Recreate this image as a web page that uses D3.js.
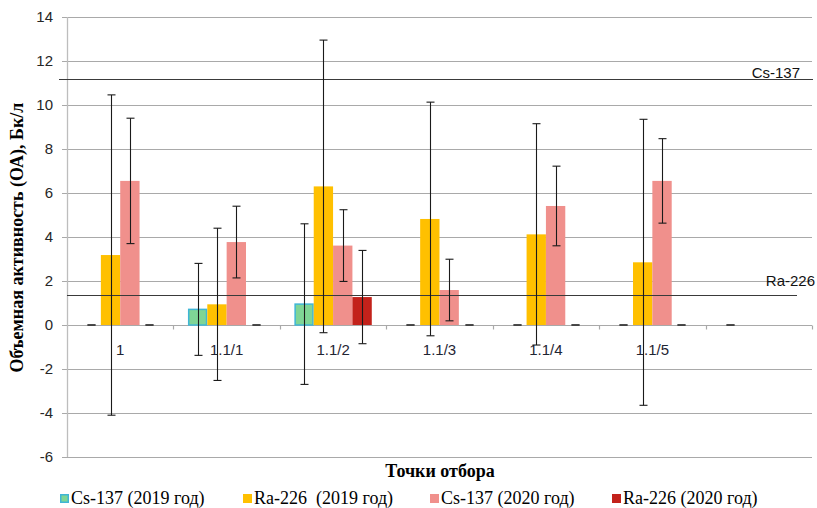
<!DOCTYPE html>
<html>
<head>
<meta charset="utf-8">
<script src="https://cdn.jsdelivr.net/npm/d3@7"></script>
<style>
  html, body { margin: 0; padding: 0; background: #fff; }
  svg { display: block; }
</style>
</head>
<body>
<svg id="chart" width="817" height="508"></svg>
<script>
// Sampling points (the last slot is an unlabeled spare point)
const categories = ["1", "1.1/1", "1.1/2", "1.1/3", "1.1/4", "1.1/5", ""];

// Volumetric activity, Bq/l, with measurement uncertainty (±)
const cs137_2019 = [0, 0.71, 0.95, 0, 0, 0, 0];
const cs137_2019Err = [0, 2.09, 3.65, 0, 0, 0, 0];
const ra226_2019 = [3.18, 0.94, 6.30, 4.82, 4.12, 2.85, null];
const ra226_2019Err = [7.28, 3.46, 6.65, 5.31, 5.03, 6.50, null];
const cs137_2020 = [6.55, 3.77, 3.61, 1.59, 5.41, 6.55, null];
const cs137_2020Err = [2.85, 1.63, 1.63, 1.40, 1.81, 1.92, null];
const ra226_2020 = [0, 0, 1.27, 0, 0, 0, null];
const ra226_2020Err = [0, 0, 2.12, 0, 0, 0, null];

// Reference levels
const limitNames = ["Cs-137", "Ra-226"];
const limitValues = [11.2, 1.35];

// Axis ticks
const yTicks = [-6, -4, -2, 0, 2, 4, 6, 8, 10, 12, 14];

const seriesNames = ["Cs-137 (2019 год)", "Ra-226  (2019 год)", "Cs-137 (2020 год)", "Ra-226 (2020 год)"];
const seriesValues = [cs137_2019, ra226_2019, cs137_2020, ra226_2020];
const seriesErrors = [cs137_2019Err, ra226_2019Err, cs137_2020Err, ra226_2020Err];
const seriesFill = ["#7fd595", "#ffc000", "#f0908c", "#c3221b"];
const seriesStroke = ["#3fb6d6", "#ffc000", "#f0908c", "#c3221b"];

const svg = d3.select("#chart");
const plot = { left: 67, right: 812, top: 17, bottom: 457 };

const x0 = d3.scaleBand().domain(d3.range(categories.length))
  .range([plot.left, plot.right]).paddingInner(0).paddingOuter(0);
const x1 = d3.scaleBand().domain(d3.range(seriesNames.length))
  .range([0, x0.bandwidth()]).paddingInner(0).paddingOuter(0.75);
const y = d3.scaleLinear().domain([-6, 14]).range([plot.bottom, plot.top]);

// Horizontal gridlines with short ticks left of the axis
const grid = svg.append("g");
grid.selectAll("line").data(yTicks).join("line")
  .attr("x1", plot.left - 5).attr("x2", plot.right)
  .attr("y1", d => Math.round(y(d)) + 0.5).attr("y2", d => Math.round(y(d)) + 0.5)
  .attr("stroke", "#a9a9a9").attr("stroke-width", 1.2);

// Vertical axis line
svg.append("line")
  .attr("x1", plot.left + 0.5).attr("x2", plot.left + 0.5)
  .attr("y1", plot.top).attr("y2", plot.bottom)
  .attr("stroke", "#bdbdbd").attr("stroke-width", 1.3);

// Y tick labels (plain hyphen for negatives)
const yAxis = d3.axisLeft(y).tickValues(yTicks).tickSize(0).tickPadding(0)
  .tickFormat(d => String(d));
const yg = svg.append("g").attr("transform", `translate(${plot.left - 14},0)`).call(yAxis);
yg.select(".domain").remove();
yg.selectAll("text")
  .attr("font-family", "Liberation Sans, Arial, sans-serif")
  .attr("font-size", 15).attr("fill", "#262626");

// Category axis at zero: boundary ticks and labels
const y0 = Math.round(y(0)) + 0.5;
const boundaries = d3.range(categories.length + 1).map(i =>
  i < categories.length ? x0(i) : x0(i - 1) + x0.bandwidth());
svg.append("g").selectAll("line").data(boundaries.slice(1)).join("line")
  .attr("x1", d => Math.round(d) + 0.5).attr("x2", d => Math.round(d) + 0.5)
  .attr("y1", y0).attr("y2", y0 + 4)
  .attr("stroke", "#a9a9a9").attr("stroke-width", 1.2);

// Bars
const barData = [];
seriesValues.forEach((vals, s) => vals.forEach((v, i) => {
  if (v !== null) barData.push({ s, i, v, e: seriesErrors[s][i] });
}));

svg.append("g").selectAll("rect").data(barData.filter(d => d.v !== 0)).join("rect")
  .attr("x", d => x0(d.i) + x1(d.s) + (d.s === 0 ? 0.75 : 0))
  .attr("width", d => x1.bandwidth() - (d.s === 0 ? 1.5 : 0))
  .attr("y", d => y(Math.max(0, d.v)))
  .attr("height", d => Math.abs(y(d.v) - y(0)))
  .attr("fill", d => seriesFill[d.s])
  .attr("stroke", d => d.s === 0 ? seriesStroke[0] : "none")
  .attr("stroke-width", 1.5);

// Category labels
svg.append("g").selectAll("text").data(categories).join("text")
  .attr("x", (d, i) => x0(i) + x0.bandwidth() / 2)
  .attr("y", y(0) + 30)
  .attr("text-anchor", "middle")
  .attr("font-family", "Liberation Sans, Arial, sans-serif")
  .attr("font-size", 15).attr("fill", "#1f2533")
  .text(d => d);

// Reference levels
const limits = svg.append("g");
limitValues.forEach((v, k) => {
  const yy = Math.round(y(v)) + 0.5;
  limits.append("line")
    .attr("x1", k === 0 ? plot.left - 8 : plot.left)
    .attr("x2", k === 0 ? plot.right + 1 : plot.right - 15)
    .attr("y1", yy).attr("y2", yy)
    .attr("stroke", "#3a3a3a").attr("stroke-width", 1.2);
  limits.append("text")
    .attr("x", k === 0 ? 800 : 815)
    .attr("y", yy - 2 - (k === 0 ? 0 : 8))
    .attr("text-anchor", "end")
    .attr("font-family", "Liberation Sans, Arial, sans-serif")
    .attr("font-size", 15).attr("fill", "#111")
    .text(limitNames[k]);
});

// Error bars (zero-uncertainty points show only their cap)
const err = svg.append("g").attr("stroke", "#1a1a1a");
barData.forEach(d => {
  const cx = Math.round(x0(d.i) + x1(d.s) + x1.bandwidth() / 2) + 0.5;
  const yt = y(d.v + d.e), yb = y(d.v - d.e);
  if (d.e > 0) {
    err.append("line").attr("x1", cx).attr("x2", cx).attr("y1", yt).attr("y2", yb)
      .attr("stroke-width", 1.1);
  }
  [yt, yb].forEach(yy => {
    err.append("line").attr("x1", cx - 4).attr("x2", cx + 4).attr("y1", yy).attr("y2", yy)
      .attr("stroke-width", d.e > 0 ? 1.1 : 1.4)
      .attr("stroke", d.e > 0 ? "#1a1a1a" : "#3a3a3a");
  });
});

// Axis titles
svg.append("text")
  .attr("transform", `translate(23,${(100 + 375) / 2}) rotate(-90)`)
  .attr("text-anchor", "middle")
  .attr("font-family", "Liberation Serif, Times New Roman, serif")
  .attr("font-weight", "bold").attr("font-size", 18).attr("fill", "#000")
  .text("Объемная активность (ОА), Бк/л");

svg.append("text")
  .attr("x", 440).attr("y", 477)
  .attr("text-anchor", "middle")
  .attr("font-family", "Liberation Serif, Times New Roman, serif")
  .attr("font-weight", "bold").attr("font-size", 18).attr("fill", "#000")
  .text("Точки отбора");

// Legend
const legendX = [60, 243, 430, 612];
const legend = svg.append("g");
seriesNames.forEach((name, s) => {
  legend.append("rect")
    .attr("x", legendX[s] + (s === 0 ? 0.75 : 0)).attr("y", 494 + (s === 0 ? 0.75 : 0))
    .attr("width", s === 0 ? 7.5 : 9).attr("height", s === 0 ? 7.5 : 9)
    .attr("fill", seriesFill[s])
    .attr("stroke", s === 0 ? seriesStroke[0] : "none").attr("stroke-width", 1.5);
  legend.append("text")
    .attr("x", legendX[s] + 11).attr("y", 504)
    .attr("font-family", "Liberation Serif, Times New Roman, serif")
    .attr("font-size", 18).attr("fill", "#000")
    .attr("xml:space", "preserve").style("white-space", "pre")
    .text(name);
});
</script>
</body>
</html>
